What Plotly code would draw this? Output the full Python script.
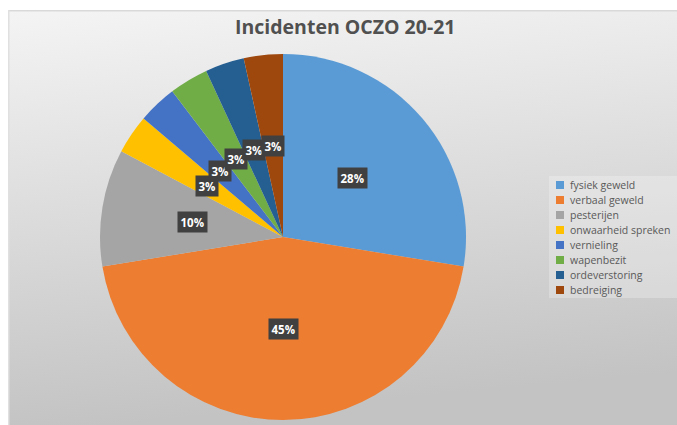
import base64, math
import plotly.graph_objects as go

categories = ["fysiek geweld", "verbaal geweld", "pesterijen", "onwaarheid spreken",
              "vernieling", "wapenbezit", "ordeverstoring", "bedreiging"]
counts = [8, 13, 3, 1, 1, 1, 1, 1]
colors = ["#5B9BD5", "#ED7D31", "#A5A5A5", "#FFC000", "#4472C4", "#70AD47", "#255E91", "#9E480E"]
title_text = "Incidenten OCZO 20-21"

W, H = 677, 425
# pie geometry in pixels
cx, cy, R = 283, 237, 183
dom_x = [(cx - R) / W, (cx + R) / W]
dom_y = [(H - cy - R) / H, (H - cy + R) / H]

svg = ('<svg xmlns="http://www.w3.org/2000/svg" width="669" height="415" preserveAspectRatio="none">'
       '<defs><linearGradient id="g" x1="0" y1="0" x2="0.15" y2="1">'
       '<stop offset="0" stop-color="#f4f4f4"/><stop offset="1" stop-color="#c3c3c3"/>'
       '</linearGradient></defs>'
       '<rect width="669" height="415" fill="url(#g)"/>'
       '<rect x="0" y="0" width="669" height="1.5" fill="#d9d9d9"/>'
       '<rect x="0" y="0" width="1.5" height="415" fill="#e0e0e0"/></svg>')
src = "data:image/svg+xml;base64," + base64.b64encode(svg.encode()).decode()

fig = go.Figure(go.Pie(
    labels=categories, values=counts, sort=False, direction="clockwise", rotation=0,
    marker=dict(colors=colors, line=dict(width=0)),
    textinfo="none", hoverinfo="label+percent",
    domain=dict(x=dom_x, y=dom_y), showlegend=False,
))

annotations = []
total = sum(counts)
cum = 0
for c, v in zip(categories, counts):
    mid = (cum + v / 2) / total * 2 * math.pi
    cum += v
    px = cx + 0.5 * R * math.sin(mid)
    py = (H - cy) + 0.5 * R * math.cos(mid)
    annotations.append(dict(
        x=px / W, y=py / H, xref="paper", yref="paper", showarrow=False,
        text="<b>%d%%</b>" % round(100 * v / total),
        font=dict(family="Open Sans", size=11.5, color="white"),
        bgcolor="#404040", borderpad=2.5, xanchor="center", yanchor="middle"))

# custom legend
shapes = []
leg_x_sq, leg_x_txt, leg_y0, leg_dy = 556, 568, 185, 15
shapes.append(dict(type="rect", xref="paper", yref="paper",
                   x0=549 / W, x1=1.0, y0=1 - 298 / H, y1=1 - 176 / H,
                   fillcolor="rgba(255,255,255,0.25)", line=dict(width=0), layer="below"))
for i, (c, col) in enumerate(zip(categories, colors)):
    yy = leg_y0 + i * leg_dy
    shapes.append(dict(type="rect", xref="paper", yref="paper",
                       x0=leg_x_sq / W, x1=(leg_x_sq + 8) / W,
                       y0=1 - (yy + 4) / H, y1=1 - (yy - 4) / H,
                       fillcolor=col, line=dict(width=0)))
    annotations.append(dict(x=leg_x_txt / W, y=1 - yy / H, xref="paper", yref="paper",
                            showarrow=False, text=c, xanchor="left", yanchor="middle",
                            font=dict(family="Open Sans", size=10.5, color="#595959")))

annotations.append(dict(x=345 / W, y=1 - 27 / H, xref="paper", yref="paper", showarrow=False,
                        text="<b>" + title_text + "</b>", xanchor="center", yanchor="middle",
                        font=dict(family="Open Sans", size=19.5, color="#505050")))

fig.update_layout(
    width=W, height=H, margin=dict(l=0, r=0, t=0, b=0),
    paper_bgcolor="white", plot_bgcolor="white",
    images=[dict(source=src, xref="paper", yref="paper", x=8 / W, y=1 - 10 / H,
                 sizex=(W - 8) / W, sizey=(H - 10) / H, xanchor="left", yanchor="top",
                 sizing="stretch", layer="below")],
    shapes=shapes, annotations=annotations,
)
fig.write_html("out.html", config={"displayModeBar": False},
               post_script="document.body.style.margin='0';document.body.style.overflow='hidden';")
